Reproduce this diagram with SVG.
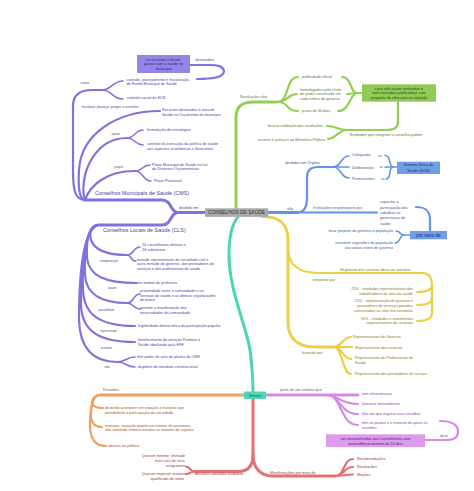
<svg xmlns="http://www.w3.org/2000/svg" width="474" height="491" viewBox="0 0 474 491">
<style>
text{font-family:"Liberation Sans",Arial,sans-serif;font-size:3.8px}
.e{text-anchor:end}.m{text-anchor:middle}
.s{font-size:3px}.b{font-size:5.4px}
.c path{fill:none;stroke-linecap:round}
.lp{stroke:#7f74dd}.lg{stroke:#94cf55}.lb{stroke:#6394e3}.ly{stroke:#ebcf45}
.lt{stroke:#4fd4b4}.lm{stroke:#d58be6}.lo{stroke:#f0a060}.lr{stroke:#e27272}
.w3{stroke-width:3}.w2{stroke-width:2.2}.w1{stroke-width:1.6}
.tp{fill:#4d449e}.tg{fill:#5d7a42}.tb{fill:#3d5d94}.ty{fill:#8a7a2a}
.tm{fill:#8a4a9a}.to{fill:#a0582a}.tr{fill:#9a3a3a}.tk{fill:#333}
</style>
<rect width="474" height="491" fill="#fff"/>
<g id="connectors" class="c">
<!-- purple -->
<path class="lp w3" d="M205,212.5 L178,212.5"/>
<path class="lp w3" d="M178,212.5 C170,212.5 172,200 162,200 L85,200"/>
<path class="lp w3" d="M178,212.5 C170,212.5 172,225 162,225 L98,225"/>
<path class="lp w2" d="M85,200 C75,200 73,190 73,170 L73,106 C73,95 79,90 92,90 L102,90"/>
<path class="lp w1" d="M102,90 C112,90 112,81 123,81"/>
<path class="lp w1" d="M102,90 C112,90 112,99 123,99"/>
<path class="lp w2" d="M197,79 C215,79 224,77 224,71 C223,66 218,65 210,65 L190,65"/>
<path class="lp w2" d="M85,200 C79,200 78,185 79,170 C81,135 115,111 160,111"/>
<path class="lp w2" d="M85,200 C82,192 83,175 90,162 C98,147 110,138 127,138"/>
<path class="lp w1" d="M127,138 C135,138 135,130 143,130"/>
<path class="lp w1" d="M127,138 C135,138 135,145 143,145"/>
<path class="lp w2" d="M85,200 C90,186 105,171 135,171"/>
<path class="lp w1" d="M135,171 C143,171 142,165 150,165"/>
<path class="lp w1" d="M135,171 C143,171 143,181 151,181"/>
<path class="lp w2" d="M98,225 C91,225 89,232 91,240 C95,251 108,255 127,255"/>
<path class="lp w1" d="M127,255 C134,255 133,247 140,247"/>
<path class="lp w1" d="M127,255 C132,255 130,261 136,261"/>
<path class="lp w2" d="M98,225 C89,226 86,240 87,258 C89,276 105,283 137,283"/>
<path class="lp w2" d="M98,225 C87,227 84,250 85,275 C86,295 103,303 127,303"/>
<path class="lp w1" d="M127,303 C134,303 133,294 140,294"/>
<path class="lp w1" d="M127,303 C134,303 133,309 140,309"/>
<path class="lp w2" d="M98,225 C85,228 82,260 83,290 C84,315 100,326 135,326"/>
<path class="lp w2" d="M98,225 C84,229 81,270 81,305 C82,332 100,342 135,342"/>
<path class="lp w2" d="M98,225 C82,230 79,280 79,320 C80,350 95,362 117,362"/>
<path class="lp w1" d="M117,362 C126,362 126,357 135,357"/>
<path class="lp w1" d="M117,362 C126,362 126,367 135,367"/>
<!-- green -->
<path class="lg w3" d="M236,208 L236,118 C236,106 242,102 254,102 L277,102"/>
<path class="lg w2" d="M277,102 C290,102 285,77 298,77"/>
<path class="lg w2" d="M277,102 C288,102 287,94 297,94"/>
<path class="lg w2" d="M277,102 C290,102 285,111 298,111"/>
<path class="lg w2" d="M342,77 C352,77 350,93 357,93"/>
<path class="lg w2" d="M347,94 L357,93"/>
<path class="lg w2" d="M338,111 C350,111 350,93 357,93 L362,93"/>
<path class="lg w2" d="M398,102 L398,122 C398,128 394,130 385,130 L347,130"/>
<path class="lg w2" d="M347,130 C338,130 336,126 327,126"/>
<path class="lg w2" d="M347,130 C338,130 336,139 328,139"/>
<!-- blue -->
<path class="lb w3" d="M268,212.5 L297,212.5"/>
<path class="lb w2" d="M297,212.5 L377,212.5"/>
<path class="lb w2" d="M297,212.5 C304,212.5 307,207 307,198 L307,177 C307,170 311,167 318,167 L333,167"/>
<path class="lb w1" d="M333,167 C342,167 340,156 349,156"/>
<path class="lb w1" d="M333,167 L349,167"/>
<path class="lb w1" d="M333,167 C342,167 340,178 349,178"/>
<path class="lb w1" d="M385,155.5 C392,155.5 388,167 393,167"/>
<path class="lb w1" d="M385,167 L397,167"/>
<path class="lb w1" d="M386,179 C392,179 388,167 393,167"/>
<path class="lb w2" d="M416,207 C425,207 430,210 430,220 L430,231"/>
<path class="lb w1" d="M410,235 L404,235 C399,235 401,231 396,231"/>
<path class="lb w1" d="M404,235 C399,235 401,243 395,243"/>
<!-- yellow -->
<path class="ly w3" d="M262,216.5 C280,216.5 288,224 288,240 L288,322 C288,338 297,347 315,347 L333,347"/>
<path class="ly w2" d="M288,248 C288,264 298,273 318,273 L422,273"/>
<path class="ly w2" d="M422,273 C430,273 432,278 432,285 C432,291 425,292 417,292"/>
<path class="ly w2" d="M432,285 L432,298 C432,304 425,305 417,305"/>
<path class="ly w2" d="M432,285 L432,313 C432,319 425,321 417,321"/>
<path class="ly w2" d="M333,347 C343,347 342,337 351,337"/>
<path class="ly w2" d="M333,347 L352,347"/>
<path class="ly w2" d="M333,347 C343,347 342,359 351,359"/>
<path class="ly w2" d="M333,347 C343,347 342,374 351,374"/>
<!-- teal -->
<path class="lt w3" d="M238,217 C231,225 229,237 229,255 C229,290 246,325 250,350 C252,366 253,380 253,391.5"/>
<!-- magenta -->
<path class="lm w3" d="M266,395 L358,395"/>
<path class="lm w2" d="M327,395 C338,395 340,404 358,404"/>
<path class="lm w2" d="M327,395 C340,395 340,414 358,414"/>
<path class="lm w2" d="M327,395 C342,395 340,425 358,425"/>
<path class="lm w2" d="M440,421 C452,421 458,425 458,432 C458,438 454,440 446,440 L425,440"/>
<!-- orange -->
<path class="lo w3" d="M244,395 L100,395"/>
<path class="lo w2" d="M100,395 C94,395 92,400 92,403 C93,407 97,408 103,408"/>
<path class="lo w2" d="M100,395 C94,395 91,402 91,415 C91,424 95,427 102,427"/>
<path class="lo w2" d="M100,395 C93,395 90,405 90,425 C90,440 96,446 106,446"/>
<!-- red -->
<path class="lr w3" d="M253,399 L253,455 C253,466 248,471.5 238,471.5 L195,471.5"/>
<path class="lr w3" d="M253,455 C253,467 260,476 272,476 L335,476"/>
<path class="lr w2" d="M195,471.5 C189,471.5 191,466.5 186,466.5"/>
<path class="lr w2" d="M195,471.5 C189,471.5 191,474 186,474"/>
<path class="lr w2" d="M335,476 C345,476 343,459 353,459"/>
<path class="lr w2" d="M335,476 C345,476 343,467 353,467"/>
<path class="lr w2" d="M335,476 C344,476 344,474.5 353,474.5"/>
</g>
<g id="center"><rect x="205" y="208.3" width="63" height="8.6" fill="#a9a9a9"/><text class="m tk" x="236.5" y="214.4" style="font-size:4.9px">CONSELHOS DE SAÚDE</text></g>
<!-- purple nodes -->
<g id="n-dividido"><text class="tp" x="179" y="208.6">dividido em</text></g>
<g id="n-cms"><text class="tp b" x="95" y="195">Conselhos Municipais de Saúde (CMS)</text></g>
<g id="n-cls"><text class="tp b" x="103" y="232">Conselhos Locais de Saúde (CLS)</text></g>
<g id="n-recursos-box"><rect x="137" y="55" width="53" height="18" fill="#9186e8"/><text class="m" fill="#2e2870" x="163.5" y="60.6">os recursos a serem</text><text class="m" fill="#2e2870" x="163.5" y="65.4">gastos com a saúde no</text><text class="m" fill="#2e2870" x="163.5" y="70.2">município</text></g>
<g id="n-destinados"><text class="tp" x="195.5" y="61.3">destinados</text></g>
<g id="n-avaliar"><text class="tp s" x="80.5" y="84.3">avaliar</text></g>
<g id="n-fms"><text class="tp" x="126.5" y="80.6">controle, planejamento e fiscalização</text><text class="tp" x="126.5" y="84.8">do Fundo Municipal de Saúde</text></g>
<g id="n-sus"><text class="tp" x="127" y="99.2">controle social do SUS.</text></g>
<g id="n-fiscalizar"><text class="tp" x="81.5" y="108.2" style="font-size:3.5px">fiscalizar, planejar, propor e controlar</text></g>
<g id="n-recursos"><text class="tp" x="162" y="111.3">Recursos destinados à área de</text><text class="tp" x="162" y="116.3">Saúde no Orçamento do município</text></g>
<g id="n-apoiar"><text class="tp s" x="111.5" y="135.3">apoiar</text></g>
<g id="n-formulacao"><text class="tp" x="147" y="131.3">formulação de estratégias</text></g>
<g id="n-execucao"><text class="tp" x="147" y="145.3">controle da execução da política de saúde</text><text class="tp" x="147" y="149.6">nos aspectos econômicos e financeiros</text></g>
<g id="n-propor"><text class="tp s" x="114.5" y="168.3">propor</text></g>
<g id="n-pms"><text class="tp" x="152" y="165.5">Plano Municipal de Saúde na Lei</text><text class="tp" x="152" y="169.7">de Diretrizes Orçamentárias</text></g>
<g id="n-ppa"><text class="tp" x="154" y="182.1">Plano Plurianual</text></g>
<g id="n-24"><text class="tp" x="142" y="246.3">24 conselheiros efetivos e</text><text class="tp" x="142" y="251.3">24 substitutos</text></g>
<g id="n-composto-cls"><text class="tp s" x="100" y="262">composto por</text></g>
<g id="n-metade"><text class="tp" x="137" y="260.6">metade representante da sociedade civil e</text><text class="tp" x="137" y="265.1">outra metade do governo, dos prestadores de</text><text class="tp" x="137" y="269.6">serviços e dos profissionais de saúde</text></g>
<g id="n-atuam"><text class="tp s" x="108" y="289.3">atuam</text></g>
<g id="n-ambito"><text class="tp" x="138" y="284.1">no âmbito da prefeitura</text></g>
<g id="n-possibilitam"><text class="tp s" x="98.5" y="311.2">possibilitam</text></g>
<g id="n-proximidade"><text class="tp" x="140" y="292.3">proximidade entre a comunidade e os</text><text class="tp" x="140" y="296.9">serviços de saúde e as demais organizações</text><text class="tp" x="140" y="301.4">do bairro</text></g>
<g id="n-permite"><text class="tp" x="140" y="309.3">permite a manifestação das</text><text class="tp" x="140" y="314">necessidades da comunidade</text></g>
<g id="n-representam"><text class="tp s" x="100" y="331.8">representam</text></g>
<g id="n-legitimidade"><text class="tp" x="138" y="327.1">legitimidade democrática da participação popular</text></g>
<g id="n-auxiliam"><text class="tp s" x="100.7" y="348.5">auxiliam</text></g>
<g id="n-fortalecimento"><text class="tp" x="138" y="341.3">fortalecimento da atenção Primária à</text><text class="tp" x="138" y="345.6">Saúde idealizada pela ESF</text></g>
<g id="n-nao"><text class="tp s" x="104.5" y="368.4">não</text></g>
<g id="n-veto"><text class="tp" x="137" y="358.3">têm poder de veto de planos da CMS</text></g>
<g id="n-mandato"><text class="tp" x="138" y="368.3">dispõem de mandato constitucional</text></g>
<!-- green nodes -->
<g id="n-resolucoes"><text class="tg" x="240" y="98">Resoluções são</text></g>
<g id="n-publicidade"><text class="tg" x="302" y="78">publicidade oficial</text></g>
<g id="n-homologadas"><text class="tg" x="300" y="90.6">homologadas pelo chefe</text><text class="tg" x="300" y="95.3">do poder constituído em</text><text class="tg" x="300" y="100">cada esfera do governo</text></g>
<g id="n-prazo"><text class="tg" x="302" y="112">prazo de 30 dias</text></g>
<g id="n-caso"><rect x="362" y="84.3" width="74" height="17.4" fill="#8fcb55"/><text class="m" fill="#2e4a1a" x="399" y="89.6">caso não sejam restituídas e</text><text class="m" fill="#2e4a1a" x="399" y="94.4">nem enviadas justificativas com</text><text class="m" fill="#2e4a1a" x="399" y="99.1">proposta de alteração ou rejeição</text></g>
<g id="n-entidades"><text class="tg" x="350" y="136.3">Entidades que integram o conselho podem</text></g>
<g id="n-buscar"><text class="tg e" x="323" y="127.2">buscar validação das resoluções</text></g>
<g id="n-recorrer"><text class="tg e" x="325" y="140.6">recorrer à justiça e ao Ministério Público</text></g>
<!-- blue nodes -->
<g id="n-sao"><text class="tb" x="287" y="209.6">são</text></g>
<g id="n-orgaos"><text class="tb" x="285" y="164">divididos em Órgãos</text></g>
<g id="n-colegiados"><text class="tb" x="352" y="156.3">Colegiados</text><text class="tb s" x="378" y="156.8">ao</text></g>
<g id="n-deliberativos"><text class="tb" x="352" y="168.6">Deliberativos</text><text class="tb s" x="379.5" y="168.4">ao</text></g>
<g id="n-permanentes"><text class="tb" x="352" y="179.6">Permanentes</text><text class="tb s" x="381" y="180.4">ao</text></g>
<g id="n-sus-box"><rect x="397" y="161.7" width="43" height="12.3" fill="#6f9de8"/><text class="m" fill="#1a3060" x="418.5" y="166.3">Sistema Único de</text><text class="m" fill="#1a3060" x="418.5" y="172">Saúde (SUS)</text></g>
<g id="n-instituicoes"><text class="tb" x="313" y="208.6">Instituições responsáveis por</text></g>
<g id="n-capacitar"><text class="tb" x="380" y="203">capacitar a</text><text class="tb" x="380" y="208.6">participação dos</text><text class="tb" x="380" y="214">cidadãos na</text><text class="tb" x="380" y="219.3">governança de</text><text class="tb" x="380" y="224.6">saúde</text></g>
<g id="n-pormeio"><rect x="410" y="231" width="37" height="8.3" fill="#6f9de8"/><text class="m" fill="#1a3060" x="428.5" y="236.8" style="font-size:4.6px">por meio de</text></g>
<g id="n-levar"><text class="tb e" x="393" y="232.3">levar projetos do governo à população</text></g>
<g id="n-transmitir"><text class="tb e" x="393" y="243.6">transmitir sugestões da população</text><text class="tb e" x="393" y="248.6">aos vários níveis de governo</text></g>
<!-- yellow nodes -->
<g id="n-segmento"><text class="ty" x="340" y="270.6">Segmento dos usuários deve ser paritário</text></g>
<g id="n-composto-y"><text class="ty" x="312" y="281.3">composto por</text></g>
<g id="n-25a"><text class="ty e" x="413" y="289.6">25% - entidades representativas dos</text><text class="ty e" x="413" y="294.6">trabalhadores da área de saúde</text></g>
<g id="n-25b"><text class="ty e" x="413" y="302.3">25% - representação do governo e</text><text class="ty e" x="413" y="307">prestadores de serviços privados</text><text class="ty e" x="413" y="312">conveniados ou sem fins lucrativos</text></g>
<g id="n-50"><text class="ty e" x="413" y="319.6">50% - entidades e movimentos</text><text class="ty e" x="413" y="324">representativos de usuários</text></g>
<g id="n-formado"><text class="ty" x="302" y="354">formado por</text></g>
<g id="n-governo"><text class="ty" x="353" y="338.3">Representantes do Governo</text></g>
<g id="n-usuarios"><text class="ty" x="355" y="348.6">Representante dos usuários</text></g>
<g id="n-profissionais"><text class="ty" x="355" y="359.3">Representante do Profissionais de</text><text class="ty" x="355" y="363.6">Saúde</text></g>
<g id="n-prestadores"><text class="ty" x="355" y="375">Representante dos prestadores de serviço</text></g>
<!-- teal node -->
<g id="n-sistema"><rect x="244" y="391.5" width="22" height="7.5" rx="1" fill="#4fd4b4"/><text class="m" fill="#1f5a4c" x="255" y="396.7" style="font-size:3.4px">Sistema</text></g>
<!-- magenta nodes -->
<g id="n-parte"><text class="tm" x="280" y="391.3">parte de um sistema que</text></g>
<g id="n-infra"><text class="tm" x="362" y="395.3">tem infraestrutura</text></g>
<g id="n-mensal"><text class="tm" x="362" y="405.3">funciona mensalmente</text></g>
<g id="n-ata"><text class="tm" x="362" y="415.3">têm ata que registre suas reuniões</text></g>
<g id="n-pautas"><text class="tm" x="362" y="424.3">têm as pautas e o material de apoio às</text><text class="tm" x="362" y="429.3">reuniões</text></g>
<g id="n-deve"><text class="tm" x="440" y="437.3">deve</text></g>
<g id="n-encaminhados"><rect x="326" y="434.3" width="99" height="12.7" fill="#dc9ceb"/><text class="m" fill="#5a1a6a" x="375.5" y="439.6">ser encaminhados aos Conselheiros com</text><text class="m" fill="#5a1a6a" x="375.5" y="444.6">antecedência mínima de 10 dias</text></g>
<!-- orange nodes -->
<g id="n-reunioes"><text class="to" x="103" y="391.3">Reuniões</text></g>
<g id="n-devendo"><text class="to" x="105" y="409.3">devendo acontecer em espaços e horários que</text><text class="to" x="105" y="413.6">possibilitem a participação da sociedade</text></g>
<g id="n-mensais"><text class="to" x="105" y="427">mensais, variação quanto ao número de presentes,</text><text class="to" x="105" y="431.3">não existindo número mínimo ou máximo de sujeitos</text></g>
<g id="n-abertas"><text class="to" x="108" y="447.3">abertas ao público</text></g>
<!-- red nodes -->
<g id="n-decisoes"><text class="tr" x="195" y="475.3">decisões adotadas mediante</text></g>
<g id="n-qmin"><text class="tr e" x="185" y="457">Quorum mínimo: (metade</text><text class="tr e" x="185" y="462.3">mais um) de seus</text><text class="tr e" x="185" y="467.3">integrantes</text></g>
<g id="n-qesp"><text class="tr e" x="185" y="474.6">Quorum especial: maioria</text><text class="tr e" x="184" y="479.6">qualificada de votos</text></g>
<g id="n-manifestacoes"><text class="tr" x="270" y="474.3">Manifestações por meio de</text></g>
<g id="n-recomendacoes"><text class="tr" x="357" y="460.3">Recomendações</text></g>
<g id="n-resolucoes2"><text class="tr" x="357" y="468">Resoluções</text></g>
<g id="n-mocoes"><text class="tr" x="357" y="475.6">Moções</text></g>
</svg>
